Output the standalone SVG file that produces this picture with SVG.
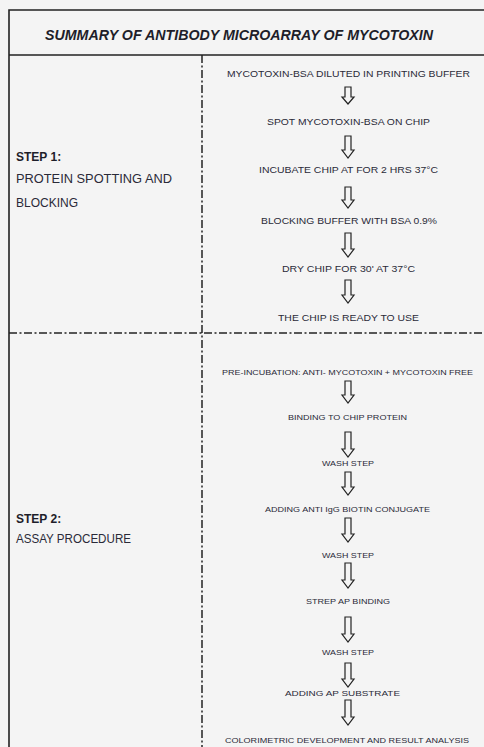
<svg xmlns="http://www.w3.org/2000/svg" width="484" height="747" viewBox="0 0 484 747">
<style>
.frame{stroke:#222;stroke-width:1.6;fill:none}
.dash{stroke:#222;stroke-width:1.5;fill:none;stroke-dasharray:8 2.5 2 2.5}
.arr{fill:#f4f4f4;stroke:#222;stroke-width:1.2;stroke-linejoin:miter}
.title{font-family:"Liberation Sans",Arial,sans-serif;font-weight:bold;font-style:italic;font-size:14px;fill:#1e1e2a;text-anchor:middle}
.lbl{font-family:"Liberation Sans",Arial,sans-serif;font-size:12px;fill:#2a2a38}
.lblb{font-family:"Liberation Sans",Arial,sans-serif;font-size:12px;font-weight:bold;fill:#1e1e2a}
.s1{font-family:"Liberation Sans",Arial,sans-serif;font-size:9.5px;fill:#2a2a38;text-anchor:middle}
.s2{font-family:"Liberation Sans",Arial,sans-serif;font-size:8px;fill:#2a2a38;text-anchor:middle}
</style>
<rect x="0" y="0" width="484" height="747" fill="#f4f4f4"/>
<g id="table">
<path class="frame" d="M9,747 V10 H484 M9,55 H484"/>
<path class="dash" d="M202,55 V747 M9,333 H484"/>
</g>
<g id="title"><text class="title" x="239" y="40" textLength="388" lengthAdjust="spacingAndGlyphs">SUMMARY OF ANTIBODY MICROARRAY OF MYCOTOXIN</text></g>
<g id="step1-label">
<text class="lblb" x="16" y="161">STEP 1:</text>
<text class="lbl" x="16" y="183" textLength="156" lengthAdjust="spacingAndGlyphs">PROTEIN SPOTTING AND</text>
<text class="lbl" x="16" y="207">BLOCKING</text>
</g>
<g id="step2-label">
<text class="lblb" x="16" y="523">STEP 2:</text>
<text class="lbl" x="16" y="543" textLength="115" lengthAdjust="spacingAndGlyphs">ASSAY PROCEDURE</text>
</g>
<g id="n1"><text class="s1" x="348.5" y="76.5" textLength="243" lengthAdjust="spacingAndGlyphs">MYCOTOXIN-BSA DILUTED IN PRINTING BUFFER</text></g>
<g id="n2"><text class="s1" x="348.5" y="124.5" textLength="163" lengthAdjust="spacingAndGlyphs">SPOT MYCOTOXIN-BSA ON CHIP</text></g>
<g id="n3"><text class="s1" x="348.5" y="172.5" textLength="179" lengthAdjust="spacingAndGlyphs">INCUBATE CHIP AT FOR 2 HRS 37°C</text></g>
<g id="n4"><text class="s1" x="349" y="223.5" textLength="176" lengthAdjust="spacingAndGlyphs">BLOCKING BUFFER WITH BSA 0.9%</text></g>
<g id="n5"><text class="s1" x="348.5" y="271.5" textLength="133" lengthAdjust="spacingAndGlyphs">DRY CHIP FOR 30' AT 37°C</text></g>
<g id="n6"><text class="s1" x="348.5" y="320.5" textLength="141" lengthAdjust="spacingAndGlyphs">THE CHIP IS READY TO USE</text></g>
<g id="m1"><text class="s2" x="347.5" y="375" textLength="251" lengthAdjust="spacingAndGlyphs">PRE-INCUBATION: ANTI- MYCOTOXIN + MYCOTOXIN FREE</text></g>
<g id="m2"><text class="s2" x="347.5" y="420" textLength="119" lengthAdjust="spacingAndGlyphs">BINDING TO CHIP PROTEIN</text></g>
<g id="m3"><text class="s2" x="348" y="466" textLength="52" lengthAdjust="spacingAndGlyphs">WASH STEP</text></g>
<g id="m4"><text class="s2" x="347.5" y="512" textLength="165" lengthAdjust="spacingAndGlyphs">ADDING ANTI IgG BIOTIN CONJUGATE</text></g>
<g id="m5"><text class="s2" x="348" y="558" textLength="52" lengthAdjust="spacingAndGlyphs">WASH STEP</text></g>
<g id="m6"><text class="s2" x="348" y="604" textLength="84" lengthAdjust="spacingAndGlyphs">STREP AP BINDING</text></g>
<g id="m7"><text class="s2" x="348" y="655" textLength="52" lengthAdjust="spacingAndGlyphs">WASH STEP</text></g>
<g id="m8"><text class="s2" x="342.5" y="696" textLength="115" lengthAdjust="spacingAndGlyphs">ADDING AP SUBSTRATE</text></g>
<g id="m9"><text class="s2" x="347" y="743" textLength="244" lengthAdjust="spacingAndGlyphs">COLORIMETRIC DEVELOPMENT AND RESULT ANALYSIS</text></g>
<g id="connectors">
<path class="arr" d="M345,87 H351 V97 H354 L348,104 L342,97 H345 Z"/>
<path class="arr" d="M345,136 H351 V150 H354 L348,158 L342,150 H345 Z"/>
<path class="arr" d="M345,187 H351 V200 H354 L348,208 L342,200 H345 Z"/>
<path class="arr" d="M345,233 H351 V249 H354 L348,257 L342,249 H345 Z"/>
<path class="arr" d="M345,280 H351 V295 H354 L348,303 L342,295 H345 Z"/>
<path class="arr" d="M345,381 H351 V395 H354 L348,403 L342,395 H345 Z"/>
<path class="arr" d="M345,432 H351 V449 H354 L348,457 L342,449 H345 Z"/>
<path class="arr" d="M345,472 H351 V487 H354 L348,495 L342,487 H345 Z"/>
<path class="arr" d="M345,518 H351 V534 H354 L348,542 L342,534 H345 Z"/>
<path class="arr" d="M345,563 H351 V580 H354 L348,588 L342,580 H345 Z"/>
<path class="arr" d="M345,617 H351 V634 H354 L348,642 L342,634 H345 Z"/>
<path class="arr" d="M345,663 H351 V679 H354 L348,687 L342,679 H345 Z"/>
<path class="arr" d="M345,700 H351 V717 H354 L348,725 L342,717 H345 Z"/>
</g>
</svg>
